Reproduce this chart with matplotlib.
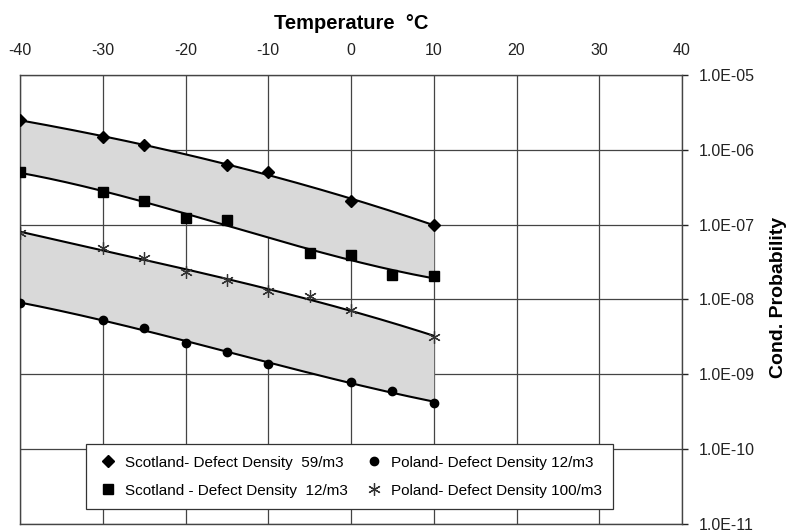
import numpy             as np
import matplotlib
matplotlib.use('Agg')
import matplotlib.pyplot as plt
import matplotlib.ticker as mticker


# Data (temperature in deg C, conditional probability)
scot_59_temp = [-40, -30, -25, -15, -10, 0, 10]
scot_59_prob = [2.5e-6, 1.5e-6, 1.16e-6, 6.2e-7, 5.0e-7, 2.1e-7, 1.0e-7]

scot_12_temp = [-40, -30, -25, -20, -15, -5, 0, 5, 10]
scot_12_prob = [5.0e-7, 2.7e-7, 2.1e-7, 1.23e-7, 1.15e-7, 4.2e-8, 3.9e-8,
                2.1e-8, 2.05e-8]

pol_100_temp = [-40, -30, -25, -20, -15, -10, -5, 0, 10]
pol_100_prob = [7.8e-8, 4.9e-8, 3.6e-8, 2.3e-8, 1.8e-8, 1.3e-8, 1.1e-8,
                7.2e-9, 3.2e-9]

pol_12_temp = [-40, -30, -25, -20, -15, -10, 0, 5, 10]
pol_12_prob = [8.9e-9, 5.4e-9, 4.2e-9, 2.6e-9, 1.96e-9, 1.37e-9, 8.0e-10,
               6.0e-10, 4.1e-10]

x_ticks = [-40, -30, -20, -10, 0, 10, 20, 30, 40]
y_ticks = [1e-11, 1e-10, 1e-9, 1e-8, 1e-7, 1e-6, 1e-5]

labels = ['Scotland- Defect Density  59/m3',
          'Scotland - Defect Density  12/m3',
          'Poland- Defect Density 12/m3',
          'Poland- Defect Density 100/m3']


def trend(temp, prob, grid):
    """Cubic trend line in log space through the measured points"""
    coef = np.polyfit(temp, np.log10(prob), 3)
    return 10 ** np.polyval(coef, grid)


plt.rcParams['font.family'] = ['Liberation Sans', 'DejaVu Sans']
plt.rcParams['axes.unicode_minus'] = False

t_fit = np.linspace(-40, 10, 200)
scot_hi = trend(scot_59_temp, scot_59_prob, t_fit)
scot_lo = trend(scot_12_temp, scot_12_prob, t_fit)
pol_hi  = trend(pol_100_temp, pol_100_prob, t_fit)
pol_lo  = trend(pol_12_temp,  pol_12_prob,  t_fit)

fig = plt.figure(figsize=(7.88, 5.31), dpi=100)
ax  = fig.add_axes([0.0254, 0.0132, 0.8401, 0.8456])

#   Shaded bands and trend lines
ax.fill_between(t_fit, scot_lo, scot_hi, color='#d9d9d9', lw=0, zorder=2)
ax.fill_between(t_fit, pol_lo,  pol_hi,  color='#d9d9d9', lw=0, zorder=2)
for curve in (scot_hi, scot_lo, pol_hi, pol_lo):
    ax.plot(t_fit, curve, color='k', lw=1.5, zorder=3)

#   Measured points
ax.plot(scot_59_temp, scot_59_prob, ls='none', marker='D', ms=6,
        color='k', label=labels[0], zorder=4)
ax.plot(scot_12_temp, scot_12_prob, ls='none', marker='s', ms=7.5,
        color='k', label=labels[1], zorder=4)
ax.plot(pol_12_temp, pol_12_prob, ls='none', marker='o', ms=6,
        color='k', label=labels[2], zorder=4)
ax.plot(pol_100_temp, pol_100_prob, ls='none', marker=(6, 2, 0), ms=9,
        mew=0.9, color='#333333', label=labels[3], zorder=4)

#   Axes setup
ax.set_yscale('log')
ax.set_xlim(-40, 40)
ax.set_ylim(1e-11, 1e-5)
ax.set_xticks(x_ticks)
ax.set_yticks(y_ticks)
ax.yaxis.set_minor_locator(mticker.NullLocator())
ax.yaxis.set_major_formatter(
    mticker.FuncFormatter(lambda v, pos: '{:.1E}'.format(v)))
ax.xaxis.tick_top()
ax.yaxis.tick_right()
ax.tick_params(axis='x', length=0, pad=12, labelsize=11.5, colors='#222222')
ax.tick_params(axis='y', length=4, width=1, pad=8, labelsize=11.5,
               colors='#222222', direction='out')
ax.grid(True, color='#444444', lw=0.9, zorder=1)
ax.set_axisbelow(True)
for spine in ax.spines.values():
    spine.set_color('#444444')
    spine.set_linewidth(1.0)

#   Axis labels
ax.xaxis.set_label_position('top')
ax.set_xlabel('Temperature  \u00b0C', fontsize=14.5, fontweight='bold',
              labelpad=10)
ax.yaxis.set_label_position('right')
ax.set_ylabel('Cond. Probability', fontsize=14, fontweight='bold')
ax.yaxis.set_label_coords(1.133, 0.505)

#   Legend
leg = ax.legend(loc='lower left', bbox_to_anchor=(0.0997, 0.0334),
                ncol=2, fontsize=11, frameon=True,
                fancybox=False, edgecolor='#333333', framealpha=1,
                borderaxespad=0, labelspacing=0.9, handletextpad=0.4,
                handlelength=1.4, borderpad=0.75, columnspacing=1.0)
leg.get_frame().set_linewidth(0.9)
leg.set_zorder(5)

plt.savefig('out.png', dpi=100)
